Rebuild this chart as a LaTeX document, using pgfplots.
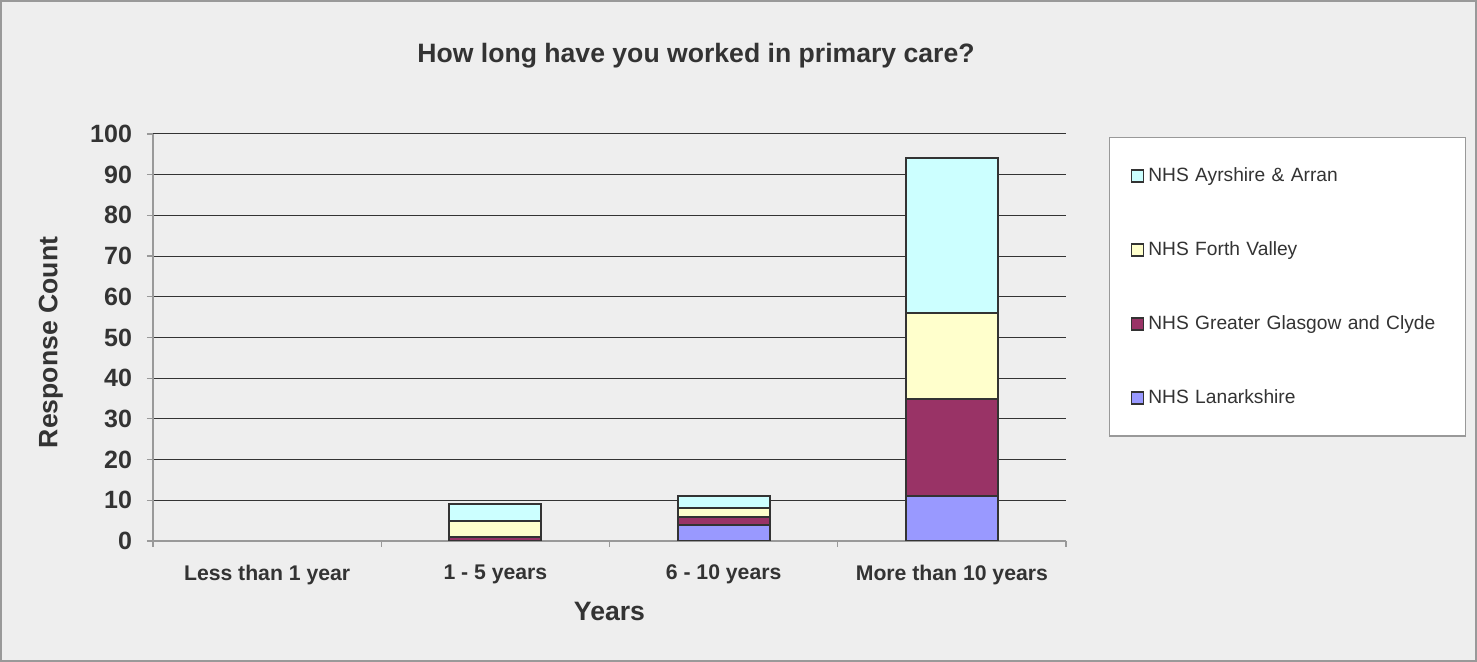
\documentclass[border=0pt]{standalone}
\usepackage{fontspec}
\setmainfont{Liberation Sans}
\usepackage{pgfplots}
\pgfplotsset{compat=1.18}

\definecolor{bg}{HTML}{EEEEEE}
\definecolor{ayr}{HTML}{CCFFFF}
\definecolor{forth}{HTML}{FFFFCC}
\definecolor{ggc}{HTML}{993366}
\definecolor{lan}{HTML}{9999FF}
\definecolor{edge}{HTML}{333333}
\definecolor{txt}{HTML}{333333}

\begin{document}
\begin{tikzpicture}
% whole chart area, 1 px = 0.5pt
\fill[bg] (0,0) rectangle (738.5pt,331pt);
\draw[gray!80, line width=0.6pt] (0.5pt,0.5pt) rectangle (738pt,330.5pt);
\node[font=\bfseries\fontsize{13.3}{15}\selectfont, text=txt] at (348pt,303pt) {How long have you worked in primary care?};

\begin{axis}[
  at={(76.5pt,60.5pt)}, anchor=south west,
  scale only axis,
  width=456.5pt, height=203.5pt,
  ybar stacked,
  bar width=46pt,
  xmin=-0.5, xmax=3.5,
  ymin=0, ymax=100,
  ytick={0,10,...,100},
  xtick={0,1,2,3},
  xticklabels={Less than 1 year, 1 - 5 years, 6 - 10 years, More than 10 years},
  minor xtick={-0.5,0.5,1.5,2.5,3.5},
  major x tick style={draw=none},
  minor x tick style={draw=gray!80, line width=0.6pt},
  y tick style={draw=gray!80, line width=0.6pt},
  tick align=outside,
  major tick length=3pt, minor tick length=3pt,
  axis x line*=bottom, axis y line*=left,
  axis line style={draw=gray!80, line width=0.6pt, -},
  ymajorgrids=true,
  major grid style={draw=black!80, line width=0.5pt},
  /pgf/number format/assume math mode=true,
  yticklabel style={font=\bfseries\fontsize{12.5}{14}\selectfont, text=txt, xshift=-4pt},
  xticklabel style={font=\bfseries\fontsize{10.6}{12}\selectfont, text=txt, yshift=-5.5pt},
  xlabel={Years},
  ylabel={Response Count},
  xlabel style={font=\bfseries\fontsize{13.3}{15}\selectfont, text=txt, at={(axis description cs:0.5,-0.174)}, anchor=center},
  ylabel style={font=\bfseries\fontsize{13.3}{15}\selectfont, text=txt, at={(axis description cs:-0.112,0.488)}, anchor=center},
  every axis plot/.append style={draw=edge, line width=1pt},
  reverse legend,
  legend style={
    at={(axis description cs:1.047,0.993)}, anchor=north west,
    fill=white, draw=gray!80, line width=0.6pt,
    font=\fontsize{9.6}{11}\selectfont, text=txt,
    row sep=24.5pt,
    inner xsep=10.5pt, inner ysep=13pt,
    text width=146pt,
    cells={anchor=west},
  },
  legend image code/.code={\draw[#1, line width=0.9pt] (0pt,-3pt) rectangle (6pt,3pt);},
]
\addplot[fill=lan] coordinates {(0,0) (1,0) (2,4) (3,11)};
\addlegendentry{NHS Lanarkshire}
\addplot[fill=ggc] coordinates {(0,0) (1,1) (2,2) (3,24)};
\addlegendentry{NHS Greater Glasgow and Clyde}
\addplot[fill=forth] coordinates {(0,0) (1,4) (2,2) (3,21)};
\addlegendentry{NHS Forth Valley}
\addplot[fill=ayr] coordinates {(0,0) (1,4) (2,3) (3,38)};
\addlegendentry{NHS Ayrshire \& Arran}
\end{axis}
\end{tikzpicture}
\end{document}
